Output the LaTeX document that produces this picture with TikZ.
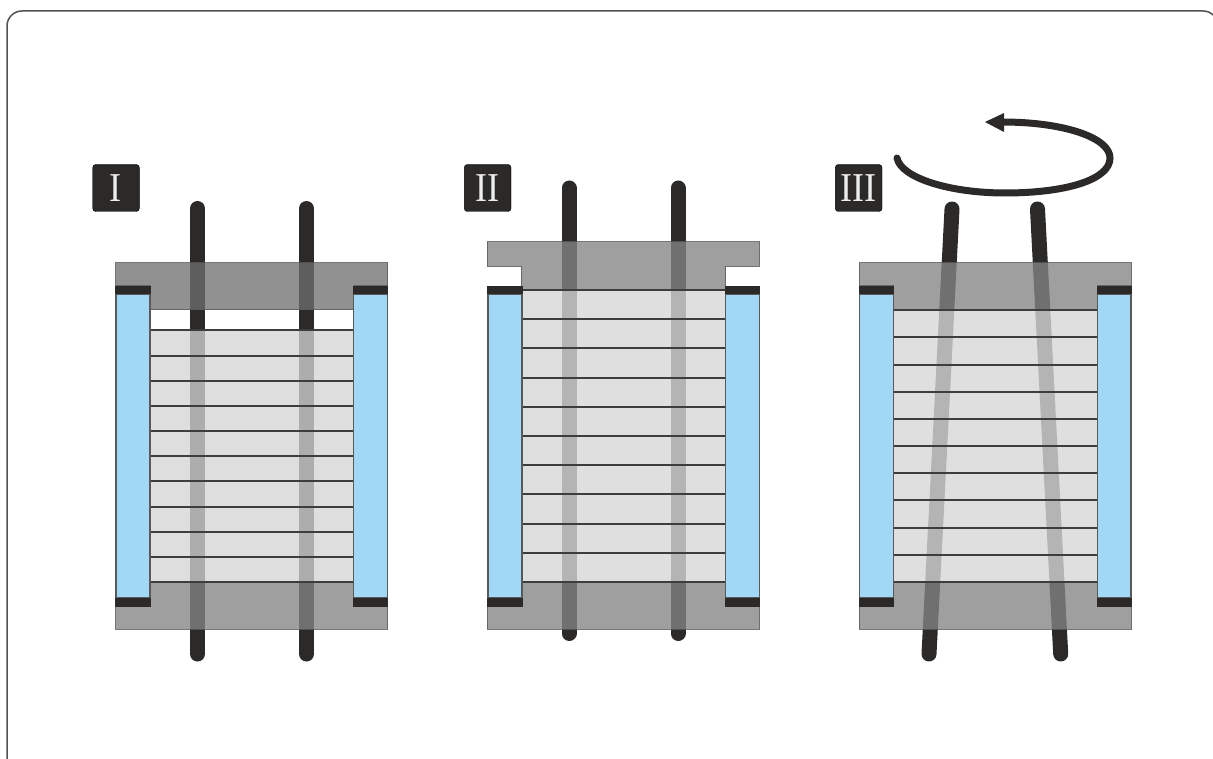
\documentclass[tikz,border=0pt]{standalone}
\usepackage{fontspec}
\newfontfamily\badgefont{Liberation Serif}
\definecolor{ink}{HTML}{2B2A29}
\definecolor{bluefill}{HTML}{A1D8F6}
\tikzset{
  frameline/.style={draw=black!68,line width=1.5pt,rounded corners=15pt},
  rod/.style={draw=ink,line width=15pt,line cap=round},
  plate/.style={fill={rgb,255:red,132;green,132;blue,132},fill opacity=.78,draw=black!65,draw opacity=.8,line width=1pt},
  darkplate/.style={fill={rgb,255:red,111;green,111;blue,111},fill opacity=.76,draw=black!65,draw opacity=.8,line width=1pt},
  stack/.style={fill={rgb,255:red,213;green,213;blue,213},fill opacity=.77},
  stacklight/.style={fill={rgb,255:red,215;green,215;blue,215},fill opacity=.8},
  sheet/.style={draw=black!76,line width=1.1pt},
  bluebar/.style={fill=bluefill,draw=black!65,line width=1.1pt},
  capbar/.style={fill=ink},
  badge/.style={fill=ink,rounded corners=3pt},
  badgetext/.style={text=white!93!black,font=\badgefont\fontsize{41}{41}\selectfont,inner sep=0pt,xscale=.88,transform shape},
  turn/.style={draw=ink,line width=7pt,line cap=round}
}
\newcommand{\sidebars}[1]{%
  \begin{scope}[xshift=#1pt]
    \draw[bluebar] (1,294) rectangle (35,598);
    \draw[bluebar] (238.8,294) rectangle (272.5,598);
    \fill[capbar] (0,286) rectangle (35.5,294);
    \fill[capbar] (238.3,286) rectangle (273,294);
    \fill[capbar] (0,598) rectangle (35.5,607);
    \fill[capbar] (238.3,598) rectangle (273,607);
  \end{scope}}
\begin{document}
\begin{tikzpicture}[x=1pt,y=-1pt]
\useasboundingbox (0,0) rectangle (1213,759);
\path[fill=white] (0,0) rectangle (1213,759);
\begin{scope}
\clip (0,0) rectangle (1213,759);
\draw[frameline] (7,775) -- (7,11) -- (1218,11) -- (1218,775);
\end{scope}

% Panel I
\draw[rod] (197.5,208.5) -- (197.5,654);
\draw[rod] (306.5,208.5) -- (306.5,654);
\draw[darkplate] (115.5,263) -- (387.8,263) -- (387.8,286) -- (354,286) -- (354,310) -- (150,310) -- (150,286) -- (115.5,286) -- cycle;
\fill[stack] (150,330) rectangle (354,582);
\draw[plate] (150,582) -- (354,582) -- (354,606) -- (387.8,606) -- (387.8,629) -- (115.5,629) -- (115.5,606) -- (150,606) -- cycle;
\foreach \yy in {330,356,381,406,431,456,481,507,532,557,582}
  \draw[sheet] (150,\yy) -- (354,\yy);
\sidebars{115}
\draw[badge] (92.7,164.5) rectangle (139.3,211.5);
\node[badgetext] (labelone) at (116,188) {I};

% Panel II
\draw[rod] (569,188) -- (569,633.5);
\draw[rod] (678,188) -- (678,633.5);
\draw[plate] (487,242) -- (759.6,242) -- (759.6,266.5) -- (725.8,266.5) -- (725.8,290) -- (521,290) -- (521,266.5) -- (487,266.5) -- cycle;
\fill[stacklight] (521,290) rectangle (725.8,582);
\draw[plate] (521,582) -- (725.8,582) -- (725.8,606) -- (759.6,606) -- (759.6,629) -- (487,629) -- (487,606) -- (521,606) -- cycle;
\foreach \yy in {290,319,348,378,407,436,465,494,524,553,582}
  \draw[sheet] (521,\yy) -- (725.8,\yy);
\sidebars{487}
\draw[badge] (464.3,164.5) rectangle (511,211.5);
\node[badgetext] (labeltwo) at (487.6,188) {II};

% Panel III
\draw[rod] (952,209) -- (929,654);
\draw[rod] (1037.5,209) -- (1060.7,654);
\draw[plate] (859,263) -- (1131.6,263) -- (1131.6,286) -- (1097,286) -- (1097,310) -- (893,310) -- (893,286) -- (859,286) -- cycle;
\fill[stacklight] (893,310) rectangle (1097,582);
\draw[plate] (893,582) -- (1097,582) -- (1097,606) -- (1131.6,606) -- (1131.6,629) -- (859,629) -- (859,606) -- (893,606) -- cycle;
\foreach \yy in {310,337,365,392,419,446,473,500,528,555,582}
  \draw[sheet] (893,\yy) -- (1097,\yy);
\sidebars{858.5}
\draw[badge] (835.3,164.5) rectangle (882,211.5);
\node[badgetext] (labelthree) at (858.8,188) {III};

% Rotation arrow
\draw[turn] (897,158) .. controls (901,178) and (950,193) .. (1005,193)
  .. controls (1065,193) and (1110,180) .. (1110,158)
  .. controls (1110,138) and (1065,122) .. (1002,122);
\fill[ink] (985,122) -- (1004,113) -- (1004,132) -- cycle;
\end{tikzpicture}
\end{document}
